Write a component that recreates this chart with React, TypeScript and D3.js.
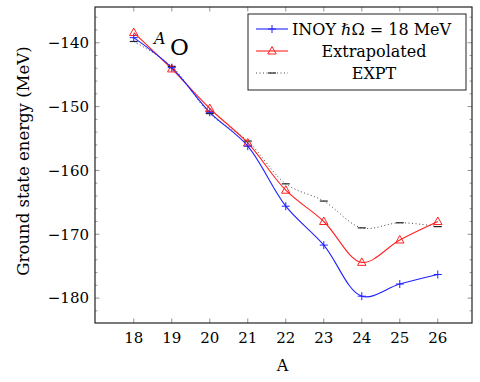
import React, { useEffect, useRef } from 'react';
import * as d3 from 'd3';

// mass numbers of the oxygen isotopes
const massNumbers = [18, 19, 20, 21, 22, 23, 24, 25, 26];
// INOY hbar Omega = 18 MeV
const inoy = [-139.2, -143.9, -150.9, -156.2, -165.6, -171.7, -179.7, -177.8, -176.3];
// extrapolated values
const extrapolated = [-138.4, -144.1, -150.3, -155.7, -163.1, -168.0, -174.4, -170.9, -168.0];
// experiment
const expt = [-139.8, -143.7, -151.1, -155.4, -162.1, -164.8, -169.0, -168.2, -168.8];

const yTicks = [-180, -170, -160, -150, -140];
const legendLabels = ['INOY \u210F\u03A9 = 18 MeV', 'Extrapolated', 'EXPT'];

const FONT = 'DejaVu Serif, serif';
const FS = 15;

const App = () => {
  const ref = useRef<SVGSVGElement>(null);

  useEffect(() => {
    const svg = d3.select(ref.current);
    svg.selectAll('*').remove();

    const left = 95, right = 472, top = 7, bottom = 323;
    const x = d3.scaleLinear().domain([16.98, 26.9]).range([left, right]);
    const y = d3.scaleLinear().domain([-183.9, -134.4]).range([bottom, top]);

    const g = svg.append('g');

    // ticks (inside, mirrored)
    const minor = d3.range(-182, -134, 2).filter(v => v % 10 !== 0);
    minor.forEach(v => {
      g.append('line').attr('x1', left).attr('x2', left + 2.5).attr('y1', y(v)).attr('y2', y(v))
        .attr('stroke', '#888').attr('stroke-width', 0.8);
      g.append('line').attr('x1', right).attr('x2', right - 2.5).attr('y1', y(v)).attr('y2', y(v))
        .attr('stroke', '#888').attr('stroke-width', 0.8);
    });
    yTicks.forEach(v => {
      g.append('line').attr('x1', left).attr('x2', left + 4.5).attr('y1', y(v)).attr('y2', y(v))
        .attr('stroke', '#888').attr('stroke-width', 0.9);
      g.append('line').attr('x1', right).attr('x2', right - 4.5).attr('y1', y(v)).attr('y2', y(v))
        .attr('stroke', '#888').attr('stroke-width', 0.9);
      g.append('text').attr('x', left - 6).attr('y', y(v)).attr('dy', '0.35em')
        .attr('text-anchor', 'end').attr('font-family', FONT).attr('font-size', FS)
        .text('\u2212' + Math.abs(v));
    });
    massNumbers.forEach(v => {
      g.append('line').attr('x1', x(v)).attr('x2', x(v)).attr('y1', bottom).attr('y2', bottom - 4.5)
        .attr('stroke', '#888').attr('stroke-width', 0.9);
      g.append('line').attr('x1', x(v)).attr('x2', x(v)).attr('y1', top).attr('y2', top + 4.5)
        .attr('stroke', '#888').attr('stroke-width', 0.9);
      g.append('text').attr('x', x(v)).attr('y', bottom + 20).attr('text-anchor', 'middle')
        .attr('font-family', FONT).attr('font-size', FS).text(v);
    });

    // axis labels
    g.append('text').attr('x', (left + right) / 2 - 1).attr('y', 371).attr('text-anchor', 'middle')
      .attr('font-family', FONT).attr('font-size', 16).text('A');
    g.append('text').attr('transform', `translate(29,161) rotate(-90)`)
      .attr('text-anchor', 'middle').attr('font-family', FONT).attr('font-size', 16.5)
      .text('Ground state energy (MeV)');

    const line = d3.line<number>()
      .x((_, i) => x(massNumbers[i]))
      .y(d => y(d))
      .curve(d3.curveCatmullRom.alpha(0.5));

    // EXPT
    g.append('path').attr('d', line(expt)).attr('fill', 'none').attr('stroke', '#333')
      .attr('stroke-width', 0.9).attr('stroke-dasharray', '1,2.5');
    // extrapolated
    g.append('path').attr('d', line(extrapolated)).attr('fill', 'none').attr('stroke', '#ff2020')
      .attr('stroke-width', 1.1);
    // INOY
    g.append('path').attr('d', line(inoy)).attr('fill', 'none').attr('stroke', '#2020ff')
      .attr('stroke-width', 1.1);

    const plus = (sel: any, cx: number, cy: number, color: string) => {
      sel.append('path').attr('d', `M${cx - 4},${cy}H${cx + 4}M${cx},${cy - 4}V${cy + 4}`)
        .attr('stroke', color).attr('stroke-width', 1);
    };
    const tri = (sel: any, cx: number, cy: number, color: string) => {
      sel.append('path').attr('d', `M${cx},${cy - 4.5}L${cx + 4.2},${cy + 3}L${cx - 4.2},${cy + 3}Z`)
        .attr('fill', 'none').attr('stroke', color).attr('stroke-width', 1);
    };
    const dash = (sel: any, cx: number, cy: number, color: string) => {
      sel.append('path').attr('d', `M${cx - 4},${cy}H${cx + 4}`).attr('stroke', color).attr('stroke-width', 1.2);
    };

    expt.forEach((v, i) => dash(g, x(massNumbers[i]), y(v), '#222'));
    extrapolated.forEach((v, i) => tri(g, x(massNumbers[i]), y(v), '#ff2020'));
    inoy.forEach((v, i) => plus(g, x(massNumbers[i]), y(v), '#2020ff'));

    // frame
    g.append('rect').attr('x', left).attr('y', top).attr('width', right - left).attr('height', bottom - top)
      .attr('fill', 'none').attr('stroke', '#222').attr('stroke-width', 1.2);

    // isotope label
    g.append('text').attr('font-family', FONT).attr('font-size', 16).attr('font-style', 'italic')
      .attr('x', 154).attr('y', 44).text('A');
    g.append('text').attr('font-family', FONT).attr('font-size', 23)
      .attr('x', 170).attr('y', 55).text('O');

    // legend
    const lx = 248, ly = 14, lw = 218, lh = 76;
    g.append('rect').attr('x', lx).attr('y', ly).attr('width', lw).attr('height', lh)
      .attr('fill', 'white').attr('stroke', '#222').attr('stroke-width', 1);
    const rows = [29, 51, 73];
    const colors = ['#2020ff', '#ff2020', '#333'];
    rows.forEach((ry, i) => {
      const seg = g.append('line').attr('x1', 256).attr('x2', 288).attr('y1', ry).attr('y2', ry)
        .attr('stroke', colors[i]).attr('stroke-width', i === 2 ? 0.9 : 1.1);
      if (i === 2) seg.attr('stroke-dasharray', '1,2.5');
      if (i === 0) plus(g, 272, ry, colors[0]);
      if (i === 1) tri(g, 272, ry, colors[1]);
      if (i === 2) dash(g, 272, ry, '#222');
      g.append('text').attr('x', i === 0 ? 292 : 374).attr('y', ry).attr('dy', '0.35em')
        .attr('text-anchor', i === 0 ? 'start' : 'middle')
        .attr('font-family', FONT).attr('font-size', 16).text(legendLabels[i]);
    });
  }, []);

  return (
    <svg ref={ref} width={480} height={382}
      style={{ position: 'absolute', left: 0, top: 0, background: 'white' }} />
  );
};

export default App;
